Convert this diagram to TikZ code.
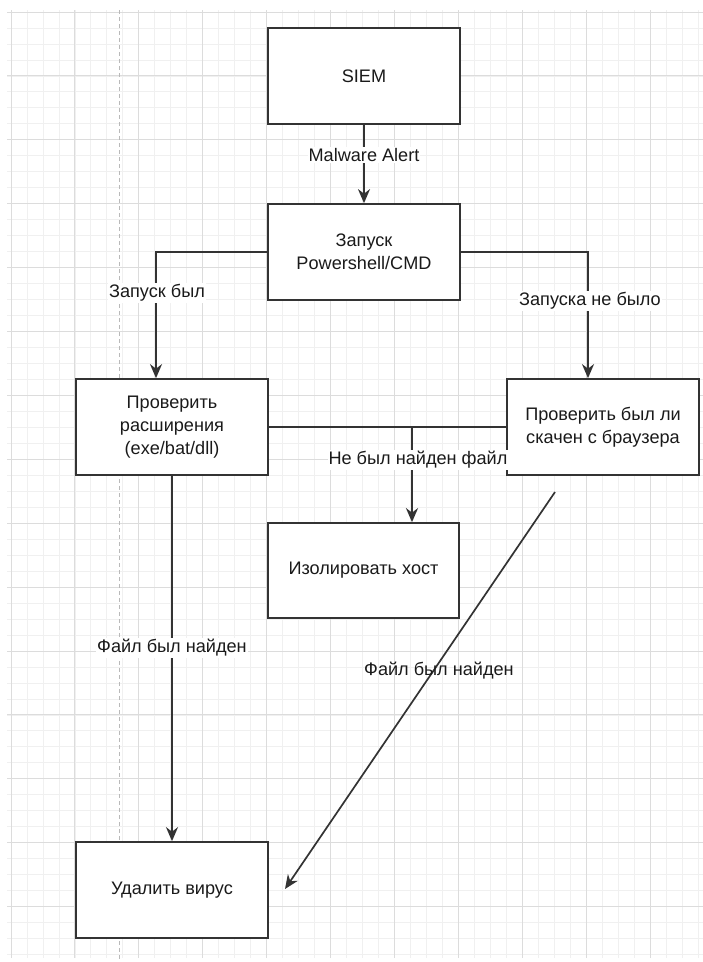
\documentclass[tikz,border=0pt]{standalone}
\usepackage{fontspec}
\setmainfont{Liberation Sans}
\usetikzlibrary{arrows.meta,calc}
\definecolor{lineclr}{HTML}{333333}
\definecolor{txtclr}{HTML}{1A1A1A}
\definecolor{gridmajor}{HTML}{DCDCDC}
\definecolor{gridminor}{HTML}{F0F0F0}
\tikzset{
  box/.style={draw=lineclr, line width=1.7bp, fill=white, rectangle,
    minimum width=192bp, minimum height=96bp, inner sep=0pt, align=center,
    text=txtclr, font=\fontsize{18.2}{23}\selectfont},
  conn/.style={draw=lineclr, line width=1.7bp},
  arr/.style={conn, -{Stealth[length=14bp,width=12bp,inset=4.5bp]}},
  lbl/.style={text=txtclr, font=\fontsize{18.2}{23}\selectfont, inner sep=1bp},
  lblbg/.style={lbl, fill=white}
}
\begin{document}
\begin{tikzpicture}[x=1bp,y=-1bp]
\useasboundingbox (0,0) rectangle (703,962);
\fill[white] (0,0) rectangle (703,962);
% grid
\foreach \i in {0,...,44} {
  \pgfmathsetmacro{\gx}{11+15.975*(\i-0)}
  \draw[gridminor, line width=0.8bp] (\gx,10) -- (\gx,958);
}
\foreach \i in {0,...,59} {
  \pgfmathsetmacro{\gy}{12+15.975*\i}
  \draw[gridminor, line width=0.8bp] (7,\gy) -- (703,\gy);
}
\foreach \i in {0,...,10} {
  \pgfmathsetmacro{\gx}{11+63.9*\i}
  \draw[gridmajor, line width=0.9bp] (\gx,10) -- (\gx,958);
}
\foreach \i in {0,...,14} {
  \pgfmathsetmacro{\gy}{12+63.9*\i}
  \draw[gridmajor, line width=0.9bp] (7,\gy) -- (703,\gy);
}
\draw[gray!55, line width=0.9bp, dash pattern=on 4bp off 3bp] (119,10) -- (119,962);

% nodes
\node[box] (siem) at (364,76) {SIEM};
\node[box] (ps) at (364,252) {Запуск\\Powershell/CMD};
\node[box] (ext) at (172,427) {Проверить\\расширения\\(exe/bat/dll)};
\node[box] (brw) at (603,427) {Проверить был ли\\скачен с браузера};
\node[box, minimum width=191bp, minimum height=95bp] (iso) at (363.5,570.5) {Изолировать хост};
\node[box] (del) at (172,890) {Удалить вирус};

% connectors
\draw[arr] (siem.south) -- (ps.north);
\node[lblbg] (l1) at (364,155) {Malware Alert};

\coordinate (extin) at ([xshift=-16bp]ext.north);
\draw[arr] (ps.west) -| (extin);
\node[lblbg] (l2) at (157,293) {Запуск был};

\coordinate (brwin) at ([xshift=-15bp]brw.north);
\draw[arr] (ps.east) -| (brwin);
\node[lblbg] (l3) at (590,301) {Запуска не было};

\draw[conn] (ext.east) -- (brw.west);
\coordinate (isoin) at ([xshift=48.5bp]iso.north);
\draw[arr, line width=2.3bp] (isoin |- ext.east) -- (isoin);
\node[lblbg] (l4) at (418,460) {Не был найден файл};

\draw[arr] (ext.south) -- (del.north);
\node[lblbg] (l5) at (172,648) {Файл был найден};

\coordinate (d1) at (555,492);
\coordinate (d2) at (285,889);
\draw[arr] (d1) -- (d2);
\node[lbl] (l6) at (439,671) {Файл был найден};
\end{tikzpicture}
\end{document}
